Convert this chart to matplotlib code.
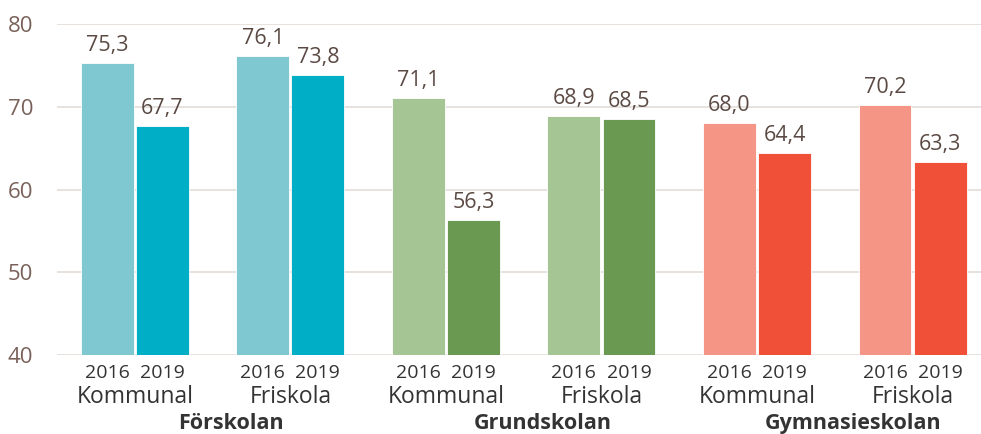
import numpy as np
import matplotlib.pyplot as plt

plt.rcParams['font.family'] = ['Open Sans', 'DejaVu Sans']

groups = ['Förskolan', 'Grundskolan', 'Gymnasieskolan']
categories = ['Kommunal', 'Friskola']
years = ['2016', '2019']
values_2016 = [75.3, 76.1, 71.1, 68.9, 68.0, 70.2]
values_2019 = [67.7, 73.8, 56.3, 68.5, 64.4, 63.3]
colors_2016 = ['#7fc8d1', '#7fc8d1', '#a6c594', '#a6c594', '#f59585', '#f59585']
colors_2019 = ['#00aec5', '#00aec5', '#6a9a51', '#6a9a51', '#ef5037', '#ef5037']

fig = plt.figure(figsize=(9.81, 4.34), dpi=100)
ax = fig.add_axes([57 / 981, 1 - 355 / 434, 1 - 57 / 981, (355 - 24) / 434])

x = np.arange(len(values_2016))
off = 0.177
w = 0.34
b1 = ax.bar(x - off, values_2016, w, color=colors_2016, edgecolor='white', linewidth=0.6, zorder=2)
b2 = ax.bar(x + off, values_2019, w, color=colors_2019, edgecolor='white', linewidth=0.6, zorder=2)

label_col = '#5b4a44'
for bars, vals in [(b1, values_2016), (b2, values_2019)]:
    for r, v in zip(bars, vals):
        ax.annotate(f'{v:.1f}'.replace('.', ','), (r.get_x() + r.get_width() / 2, v),
                    xytext=(0, 5), textcoords='offset points', ha='center', va='bottom',
                    fontsize=15.5, color=label_col)

ax.set_ylim(40, 80)
ax.set_xlim(-0.5, 5.44)
ax.set_yticks([40, 50, 60, 70, 80])
ax.yaxis.grid(True, color='#e5dfdb', linewidth=1.3, zorder=0)
ax.set_axisbelow(True)
for s in ax.spines.values():
    s.set_visible(False)
ax.tick_params(axis='y', length=0, pad=17, labelsize=16, labelcolor='#7a625a')
ax.tick_params(axis='x', length=0)
ax.set_xticks([])

trans = ax.get_xaxis_transform()
txt_col = '#333333'
for i in range(len(x)):
    ax.text(i - off, -0.053, years[0], transform=trans, ha='center', va='center', fontsize=14, color=txt_col)
    ax.text(i + off, -0.053, years[1], transform=trans, ha='center', va='center', fontsize=14, color=txt_col)
    ax.text(i, -0.127, categories[i % 2], transform=trans, ha='center', va='center', fontsize=16.5, color=txt_col)
for g, name in enumerate(groups):
    ax.text(2 * g + 0.5 + 0.12, -0.208, name, transform=trans, ha='center', va='center',
            fontsize=15.5, fontweight='bold', color=txt_col)

fig.savefig('out.png', dpi=100)
